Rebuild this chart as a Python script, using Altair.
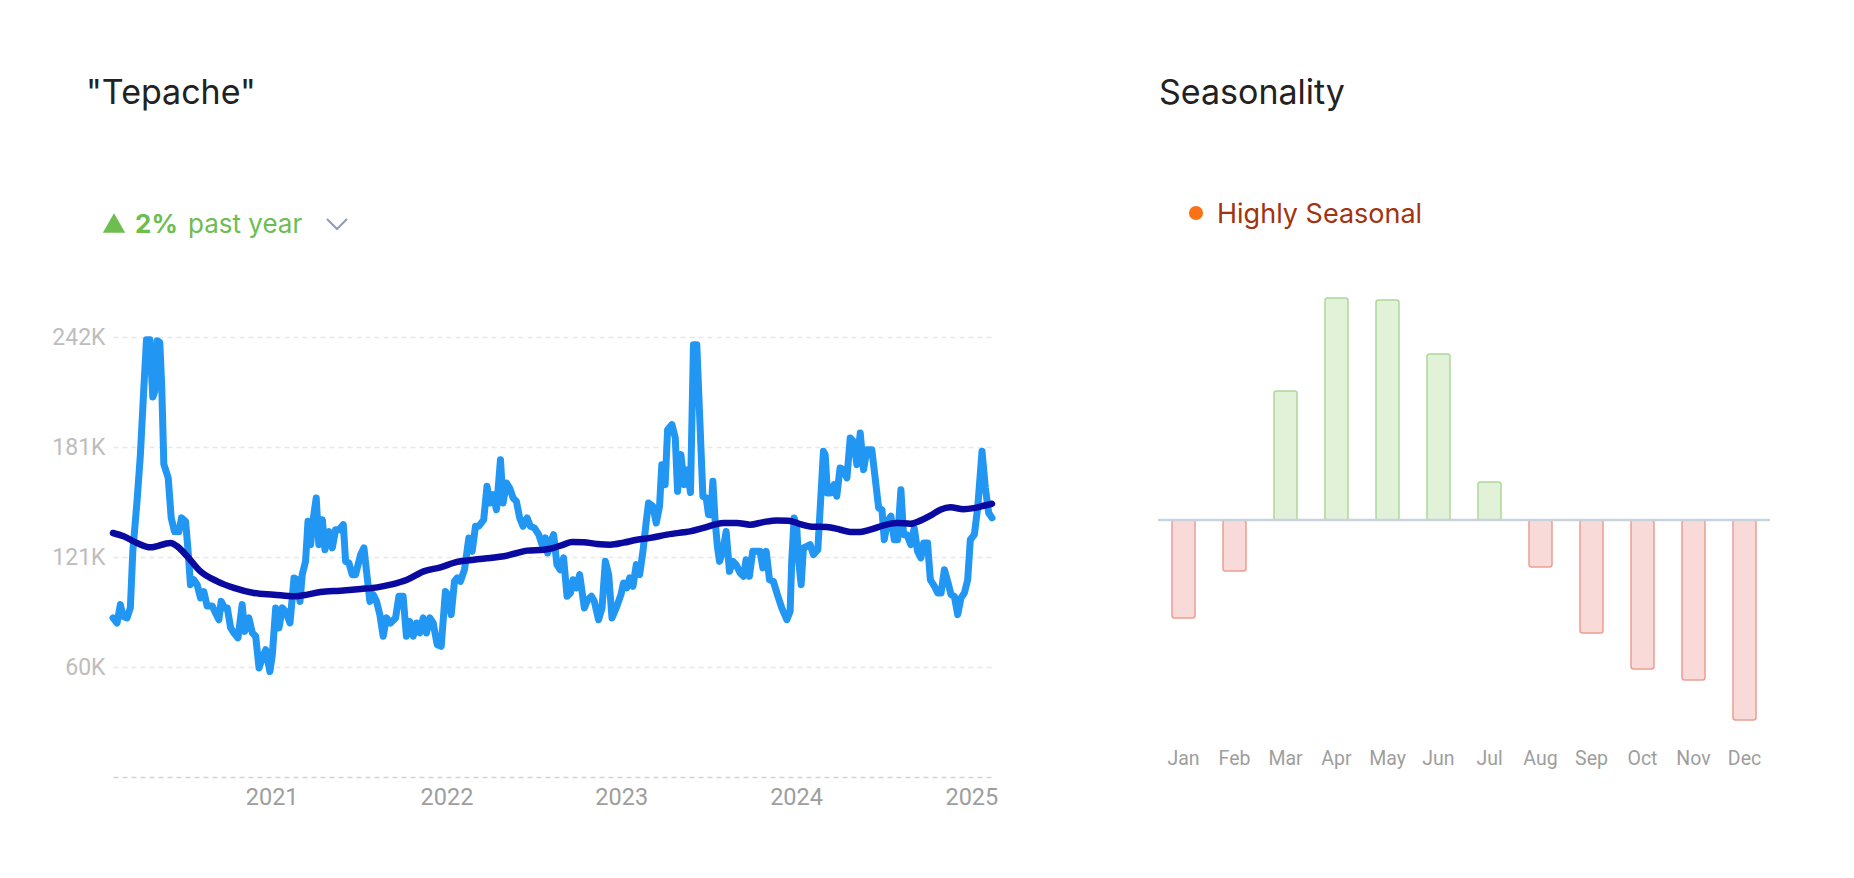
import altair as alt
import pandas as pd

# ---------------- data ----------------
# weekly search interest (thousands), (decimal year, value)
interest_2020 = [
    (2020.095, 87.5), (2020.118, 84.7), (2020.137, 94.8), (2020.152, 88.4), (2020.175, 87.5),
    (2020.194, 93.0), (2020.208, 124.0), (2020.232, 151.6), (2020.251, 177.0), (2020.271, 214.0),
    (2020.286, 240.5), (2020.305, 240.5), (2020.322, 209.0), (2020.333, 212.0), (2020.347, 240.0),
    (2020.362, 239.0), (2020.373, 215.0), (2020.385, 172.0), (2020.410, 164.5), (2020.427, 142.5),
    (2020.446, 135.0), (2020.471, 135.0), (2020.486, 142.5), (2020.509, 140.6), (2020.522, 126.0),
    (2020.537, 105.8), (2020.556, 108.5), (2020.575, 105.8), (2020.594, 98.5), (2020.613, 102.0),
    (2020.632, 94.0), (2020.661, 94.0), (2020.680, 90.2), (2020.699, 86.5), (2020.712, 96.6),
    (2020.731, 93.0), (2020.747, 93.0), (2020.766, 82.0), (2020.785, 79.2), (2020.808, 76.5),
    (2020.832, 94.8), (2020.846, 80.1), (2020.870, 87.5), (2020.890, 79.2), (2020.909, 77.4),
    (2020.928, 60.0), (2020.947, 65.5), (2020.966, 70.0), (2020.990, 58.0),
]
interest_2021 = [
    (2021.004, 67.3), (2021.023, 93.0), (2021.042, 82.0), (2021.061, 93.0), (2021.080, 91.1),
    (2021.105, 84.7), (2021.128, 109.5), (2021.147, 108.5), (2021.162, 96.6), (2021.175, 111.3),
    (2021.194, 118.6), (2021.208, 140.6), (2021.223, 127.8), (2021.236, 140.6), (2021.255, 153.5),
    (2021.270, 127.8), (2021.290, 141.5), (2021.305, 125.0), (2021.328, 135.0), (2021.347, 126.0),
    (2021.366, 136.0), (2021.385, 136.0), (2021.410, 138.8), (2021.423, 118.6), (2021.442, 117.7),
    (2021.461, 111.3), (2021.480, 111.3), (2021.509, 122.3), (2021.528, 126.0), (2021.543, 113.0),
    (2021.562, 96.6), (2021.581, 100.3), (2021.600, 96.6), (2021.619, 89.3), (2021.638, 77.4),
    (2021.657, 87.5), (2021.680, 84.7), (2021.709, 87.5), (2021.728, 99.4), (2021.752, 99.4),
    (2021.771, 77.4), (2021.790, 85.6), (2021.810, 77.4), (2021.829, 84.7), (2021.848, 79.2),
    (2021.867, 87.5), (2021.886, 79.2), (2021.905, 87.5), (2021.924, 84.7), (2021.947, 72.8),
    (2021.970, 71.9), (2021.994, 102.0),
]
interest_2022 = [
    (2022.008, 100.3), (2022.027, 89.3), (2022.046, 107.6), (2022.061, 109.5), (2022.080, 107.6),
    (2022.103, 114.0), (2022.128, 131.5), (2022.147, 124.1), (2022.166, 137.9), (2022.185, 137.9),
    (2022.213, 141.5), (2022.232, 159.9), (2022.248, 150.7), (2022.267, 155.3), (2022.286, 147.0),
    (2022.309, 174.5), (2022.324, 150.7), (2022.343, 161.7), (2022.362, 158.9), (2022.381, 153.5),
    (2022.400, 151.6), (2022.419, 142.5), (2022.438, 137.9), (2022.461, 142.5), (2022.480, 137.9),
    (2022.503, 137.0), (2022.528, 133.3), (2022.547, 127.8), (2022.566, 131.5), (2022.579, 123.2),
    (2022.598, 129.6), (2022.613, 133.3), (2022.632, 116.8), (2022.651, 114.0), (2022.670, 120.5),
    (2022.690, 99.4), (2022.709, 101.2), (2022.724, 108.5), (2022.743, 104.0), (2022.762, 111.3),
    (2022.789, 93.0), (2022.808, 97.5), (2022.829, 99.4), (2022.846, 96.6), (2022.870, 86.5),
    (2022.890, 93.0), (2022.909, 118.6), (2022.928, 111.3), (2022.947, 87.5), (2022.975, 94.0),
    (2022.998, 100.3),
]
interest_2023 = [
    (2023.013, 106.7), (2023.032, 104.0), (2023.048, 109.5), (2023.067, 104.9), (2023.086, 116.8),
    (2023.105, 111.3), (2023.124, 124.1), (2023.143, 140.6), (2023.156, 150.7), (2023.181, 148.9),
    (2023.200, 139.7), (2023.219, 148.9), (2023.232, 171.8), (2023.251, 160.8), (2023.265, 191.0),
    (2023.290, 193.8), (2023.309, 186.5), (2023.322, 157.1), (2023.341, 177.3), (2023.360, 160.8),
    (2023.379, 169.0), (2023.396, 156.5), (2023.413, 237.8), (2023.432, 237.8), (2023.467, 154.4),
    (2023.486, 153.5), (2023.499, 144.3), (2023.512, 144.3), (2023.524, 162.6), (2023.537, 140.6),
    (2023.551, 126.0), (2023.562, 118.6), (2023.581, 124.1), (2023.600, 135.0), (2023.619, 113.1),
    (2023.638, 118.6), (2023.657, 116.8), (2023.680, 112.2), (2023.699, 110.4), (2023.714, 119.5),
    (2023.733, 110.4), (2023.752, 124.1), (2023.775, 124.1), (2023.794, 124.1), (2023.810, 115.0),
    (2023.829, 124.1), (2023.848, 108.5), (2023.870, 107.6), (2023.893, 100.3), (2023.918, 93.0),
    (2023.947, 86.5), (2023.966, 91.1), (2023.975, 118.6), (2023.989, 142.5),
]
interest_2024 = [
    (2024.004, 137.0), (2024.013, 120.5), (2024.029, 105.8), (2024.042, 126.0), (2024.061, 126.9),
    (2024.080, 127.8), (2024.099, 122.3), (2024.124, 125.0), (2024.143, 157.1), (2024.156, 179.1),
    (2024.166, 177.3), (2024.179, 156.2), (2024.198, 156.2), (2024.217, 160.8), (2024.232, 154.4),
    (2024.251, 170.0), (2024.271, 169.0), (2024.290, 164.5), (2024.309, 186.5), (2024.328, 184.5),
    (2024.347, 171.8), (2024.366, 189.2), (2024.385, 169.0), (2024.404, 180.0), (2024.432, 180.0),
    (2024.451, 164.5), (2024.471, 148.0), (2024.490, 147.0), (2024.503, 130.5), (2024.522, 140.6),
    (2024.541, 143.4), (2024.560, 130.5), (2024.579, 130.5), (2024.598, 158.0), (2024.613, 133.3),
    (2024.632, 133.3), (2024.655, 127.8), (2024.674, 136.9), (2024.693, 124.1), (2024.712, 120.5),
    (2024.728, 128.7), (2024.750, 128.7), (2024.766, 108.5), (2024.789, 104.9), (2024.808, 101.2),
    (2024.827, 101.2), (2024.846, 114.0), (2024.865, 107.6), (2024.884, 100.3), (2024.903, 99.4),
    (2024.922, 89.3), (2024.941, 98.5), (2024.960, 101.2), (2024.979, 108.5), (2024.994, 130.5),
]
interest_2025 = [
    (2025.017, 133.3), (2025.036, 148.0), (2025.061, 179.1), (2025.080, 158.9), (2025.099, 145.2),
    (2025.118, 142.5),
]

# smoothed trend line (thousands)
trend_year = [
    2020.095, 2020.156, 2020.232, 2020.309, 2020.423, 2020.461, 2020.518, 2020.594, 2020.690, 2020.785,
    2020.899, 2021.013, 2021.128, 2021.204, 2021.280, 2021.394, 2021.509, 2021.604, 2021.680, 2021.775,
    2021.870, 2021.966, 2022.061, 2022.156, 2022.251, 2022.328, 2022.404, 2022.461, 2022.556, 2022.613,
    2022.670, 2022.718, 2022.785, 2022.861, 2022.937, 2023.013, 2023.090, 2023.166, 2023.261, 2023.356,
    2023.394, 2023.471, 2023.585, 2023.661, 2023.737, 2023.813, 2023.890, 2023.956, 2024.023, 2024.090,
    2024.175, 2024.252, 2024.309, 2024.366, 2024.423, 2024.499, 2024.575, 2024.652, 2024.709, 2024.766,
    2024.823, 2024.880, 2024.956, 2025.013, 2025.070, 2025.118,
]
trend_k = [
    134.2, 132.4, 128.7, 126.3, 128.7, 126.9, 121.4, 113.1, 107.6, 104.0,
    101.2, 100.3, 99.4, 100.3, 101.8, 102.5, 103.4, 104.3, 105.8, 108.5,
    113.1, 115.3, 118.3, 119.5, 120.5, 121.4, 123.2, 124.5, 125.0, 126.0,
    127.8, 129.3, 129.1, 128.2, 127.8, 128.9, 130.5, 131.5, 133.3, 134.6,
    135.1, 137.0, 139.7, 139.7, 138.8, 140.2, 141.1, 141.0, 139.1, 137.7,
    137.5, 136.0, 134.8, 134.8, 136.0, 138.4, 139.7, 139.3, 141.0, 143.7,
    147.0, 148.3, 147.3, 147.9, 149.2, 150.3,
]

year_ticks = [2021, 2022, 2023, 2024, 2025]
y_ticks_k = [0, 60.5, 121, 181.5, 242]
y_max_k = 263.45

months = ["Jan", "Feb", "Mar", "Apr", "May", "Jun", "Jul", "Aug", "Sep", "Oct", "Nov", "Dec"]
seasonal_pct = [-9.8, -5.1, 12.9, 22.2, 22.0, 16.6, 3.8, -4.7, -11.3, -14.9, -16.0, -20.0]

title_left = ['"Tepache"']
change_value = ["2%"]
change_label = ["past year"]
title_right = ["Seasonality"]
season_label = ["Highly Seasonal"]

# ---------------- helpers ----------------
def to_date(t):
    y = int(t)
    start = pd.Timestamp(year=y, month=1, day=1)
    end = pd.Timestamp(year=y + 1, month=1, day=1)
    return (start + (end - start) * (t - y)).strftime("%Y-%m-%dT%H:%M:%S")

pts = interest_2020 + interest_2021 + interest_2022 + interest_2023 + interest_2024 + interest_2025
interest_df = pd.DataFrame({"date": [to_date(t) for t, _ in pts], "value": [v for _, v in pts]})
trend_df = pd.DataFrame({"date": [to_date(t) for t in trend_year], "value": trend_k})

season_df = pd.DataFrame({"month": months, "pct": seasonal_pct})
season_df["sign"] = ["up" if v > 0 else "down" for v in seasonal_pct]

GREEN = "#6dbd4f"
W1, H1 = 879, 479
W2, H2 = 612, 422

x_enc = alt.X(
    "date:T",
    scale=alt.Scale(nice=False),
    axis=alt.Axis(
        values=[alt.DateTime(year=y, month=1, date=1) for y in year_ticks],
        format="%Y", labelColor="#9e9e9e", labelFontSize=23.5, labelFont="Roboto",
        labelPadding=8, domain=False, ticks=False, grid=False, labelFlush=False, title=None,
    ),
)
y_enc = alt.Y(
    "value:Q",
    scale=alt.Scale(domain=[0, y_max_k], nice=False),
    axis=alt.Axis(
        values=y_ticks_k,
        labelExpr="datum.value == 0 ? '' : floor(datum.value) + 'K'",
        grid=True, gridDash=[5, 4], gridWidth=1.5,
        gridColor={"condition": {"test": "datum.value === 0", "value": "#d2d2d2"}, "value": "#e8e8e8"},
        domain=False, ticks=False, labelColor="#bdbdbd", labelFontSize=23, labelFont="Roboto",
        labelPadding=8, title=None,
    ),
)

interest_line = alt.Chart(interest_df).mark_line(
    color="#2196f3", strokeWidth=7, strokeJoin="round", strokeCap="round"
).encode(x=x_enc, y=y_enc)

trend_line = alt.Chart(trend_df).mark_line(
    color="#0a0aa0", strokeWidth=6.5, interpolate="monotone", strokeCap="round"
).encode(x="date:T", y="value:Q")

t_title_l = alt.Chart(pd.DataFrame({"s": title_left})).mark_text(
    align="left", baseline="alphabetic", fontSize=34, font="Inter", color="#222222"
).encode(x=alt.value(-27), y=alt.value(-194), text="s:N")

t_tri = alt.Chart(pd.DataFrame({"s": change_value})).mark_point(
    shape="M-1,0.87L0,-0.87L1,0.87Z", filled=True, size=500, color=GREEN, opacity=1, strokeWidth=0
).encode(x=alt.value(1), y=alt.value(-75))

t_val = alt.Chart(pd.DataFrame({"s": change_value})).mark_text(
    align="left", baseline="alphabetic", fontSize=26, font="Inter", fontWeight="bold", color=GREEN
).encode(x=alt.value(22), y=alt.value(-65), text="s:N")

t_lab = alt.Chart(pd.DataFrame({"s": change_label})).mark_text(
    align="left", baseline="alphabetic", fontSize=26, font="Inter", color=GREEN
).encode(x=alt.value(75), y=alt.value(-65), text="s:N")

t_chev = alt.Chart(pd.DataFrame({"s": change_label})).mark_point(
    shape="M-1,-0.5L0,0.5L1,-0.5", filled=False, size=400, color="#8e9cb4", opacity=1, strokeWidth=2
).encode(x=alt.value(224), y=alt.value(-74))

left = alt.layer(
    interest_line, trend_line, t_title_l, t_tri, t_val, t_lab, t_chev
).properties(width=W1, height=H1)

bars = alt.Chart(season_df).mark_bar(width=23, cornerRadius=2.5, strokeWidth=1.5).encode(
    x=alt.X(
        "month:N", sort=months,
        scale=alt.Scale(paddingInner=0, paddingOuter=0),
        axis=alt.Axis(labelColor="#9e9e9e", labelFontSize=19.5, labelFont="Roboto", labelPadding=29,
                      domain=False, ticks=False, labelAngle=0, title=None),
    ),
    y=alt.Y("pct:Q", scale=alt.Scale(domain=[-20, 22.2], nice=False, zero=False), axis=None),
    y2=alt.datum(0),
    fill=alt.Fill("sign:N", scale=alt.Scale(domain=["up", "down"], range=["#e2f2d8", "#f8dbd8"]), legend=None),
    stroke=alt.Stroke("sign:N", scale=alt.Scale(domain=["up", "down"], range=["#add89a", "#eb9e94"]), legend=None),
)

zero_rule = alt.Chart(pd.DataFrame({"z": [0]})).mark_rule(color="#c8d3df", strokeWidth=2.5).encode(
    y=alt.Y("z:Q")
)

t_title_r = alt.Chart(pd.DataFrame({"s": title_right})).mark_text(
    align="left", baseline="alphabetic", fontSize=34, font="Inter", color="#222222"
).encode(x=alt.value(1), y=alt.value(-194), text="s:N")

t_dot = alt.Chart(pd.DataFrame({"s": season_label})).mark_point(
    shape="circle", filled=True, size=200, color="#f97316", opacity=1, strokeWidth=0
).encode(x=alt.value(38), y=alt.value(-85))

t_season = alt.Chart(pd.DataFrame({"s": season_label})).mark_text(
    align="left", baseline="alphabetic", fontSize=27, font="Inter", color="#a2330f"
).encode(x=alt.value(59), y=alt.value(-75), text="s:N")

right = alt.layer(bars, zero_rule, t_title_r, t_dot, t_season).properties(width=W2, height=H2)

chart = alt.hconcat(left, right, spacing=166, bounds="flush").properties(
    padding={"left": 43, "top": 69, "right": 5, "bottom": 5}
).configure(font="Inter").configure_view(stroke=None, strokeWidth=0)

chart.save("out.html", embed_options={"renderer": "svg", "actions": False})
